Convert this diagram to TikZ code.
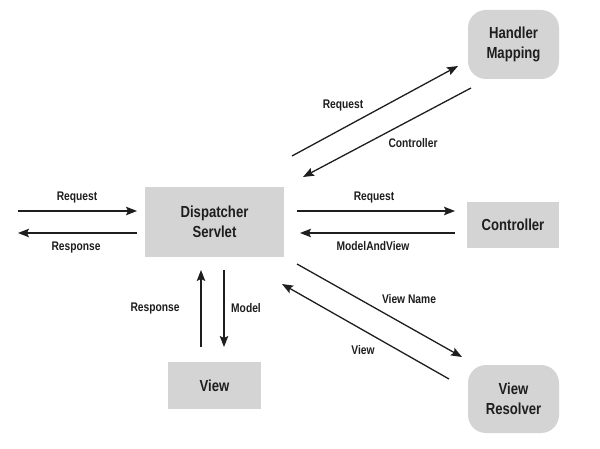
\documentclass[tikz,border=0pt]{standalone}
\usepackage{fontspec}
\setmainfont{Liberation Sans}[FakeStretch=0.82]
\usetikzlibrary{arrows.meta}
\definecolor{boxgray}{RGB}{212,212,212}
\definecolor{ink}{RGB}{30,30,30}
\begin{document}
\begin{tikzpicture}[x=1pt,y=-1pt,
  box/.style={fill=boxgray, draw=none, inner sep=0pt, align=center, text=ink,
    font=\fontsize{16}{20}\selectfont\bfseries},
  rbox/.style={box, rounded corners=18pt},
  lbl/.style={text=ink, inner sep=0pt, font=\fontsize{12.5}{14}\selectfont\bfseries},
  arr/.style={draw=ink, line width=1.3pt, -{Stealth[length=11pt,width=8.5pt,inset=2pt]}}]
\useasboundingbox[fill=white] (0,0) rectangle (600,449);

% boxes
\node[rbox, minimum width=91pt, minimum height=69pt] (hm) at (513.5,44.5) {Handler\\Mapping};
\node[box, minimum width=139pt, minimum height=70pt] (ds) at (214.5,222) {Dispatcher\\Servlet};
\node[box, minimum width=92pt, minimum height=46pt] (ctl) at (513,225) {Controller};
\node[box, minimum width=93pt, minimum height=47pt] (vw) at (214.5,385.5) {View};
\node[rbox, minimum width=91pt, minimum height=68pt] (vr) at (513.5,399) {View\\Resolver};

% connector end points
\coordinate (inA) at (18,211);   \coordinate (inB) at (137,211);
\coordinate (outA) at (137,233); \coordinate (outB) at (18,233);
\coordinate (upA) at (201,347);  \coordinate (upB) at (201,270);
\coordinate (dnA) at (224,270);  \coordinate (dnB) at (224,347);
\coordinate (crA) at (297,211);  \coordinate (crB) at (455,211);
\coordinate (mvA) at (455,233);  \coordinate (mvB) at (300,233);
\coordinate (vnA) at (297,264);  \coordinate (vnB) at (462,357);
\coordinate (vA) at (449,379);   \coordinate (vB) at (282,284);
\coordinate (hrA) at (292,156);  \coordinate (hrB) at (458,66);
\coordinate (hcA) at (471,88);   \coordinate (hcB) at (303,177);

% connectors
\draw[arr] (inA) -- (inB);
\draw[arr] (outA) -- (outB);
\draw[arr] (upA) -- (upB);
\draw[arr] (dnA) -- (dnB);
\draw[arr] (crA) -- (crB);
\draw[arr] (mvA) -- (mvB);
\draw[arr] (vnA) -- (vnB);
\draw[arr] (vA) -- (vB);
\draw[arr] (hrA) -- (hrB);
\draw[arr] (hcA) -- (hcB);

% labels
\node[lbl] (l1) at (77,197) {Request};
\node[lbl] (l2) at (76,247) {Response};
\node[lbl] (l3) at (155,308) {Response};
\node[lbl, anchor=west] (l4) at (231,308) {Model};
\node[lbl] (l5) at (374,197) {Request};
\node[lbl] (l6) at (373,246) {ModelAndView};
\node[lbl] (l7) at (409,299) {View Name};
\node[lbl] (l8) at (363,350) {View};
\node[lbl] (l9) at (343,105) {Request};
\node[lbl] (l10) at (413,143) {Controller};
\end{tikzpicture}
\end{document}
